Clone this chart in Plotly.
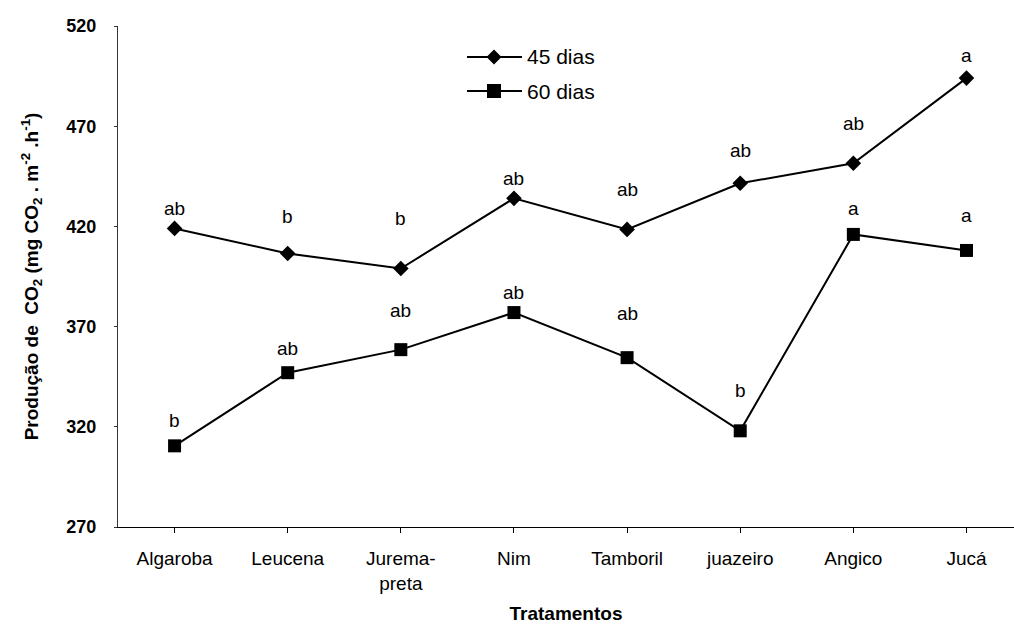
import plotly.graph_objects as go

# Treatments and CO2 production (mg CO2 . m-2 . h-1)
tratamentos = ["Algaroba", "Leucena", "Jurema-<br>preta", "Nim", "Tamboril",
               "juazeiro", "Angico", "Jucá"]
dias45 = [419, 406.5, 399, 434, 418.5, 441.5, 451.5, 494]
dias60 = [310.5, 347, 358.5, 377, 354.5, 318, 416, 408]
letras45 = ["ab", "b", "b", "ab", "ab", "ab", "ab", "a"]
letras60 = ["b", "ab", "ab", "ab", "ab", "b", "a", "a"]
y_ticks = [270, 320, 370, 420, 470, 520]

# pixel lift of each significance letter above its marker
lift45 = [20, 37, 50, 20, 40, 33, 40, 23]
lift60 = [25, 24, 39, 20, 44, 40, 26, 35]

FONT = "Liberation Sans, Arial, sans-serif"
xs = list(range(len(tratamentos)))

fig = go.Figure()
fig.add_trace(go.Scatter(
    x=xs, y=dias45, mode="lines+markers", name="45 dias",
    line=dict(color="black", width=2),
    marker=dict(symbol="diamond", size=12, color="black"),
    showlegend=False))
fig.add_trace(go.Scatter(
    x=xs, y=dias60, mode="lines+markers", name="60 dias",
    line=dict(color="black", width=2),
    marker=dict(symbol="square", size=13, color="black"),
    showlegend=False))

for vals, letras, lifts in ((dias45, letras45, lift45), (dias60, letras60, lift60)):
    for i, (v, t, s) in enumerate(zip(vals, letras, lifts)):
        fig.add_annotation(x=i, y=v, text=t, showarrow=False, yshift=s,
                           xanchor="center", yanchor="middle",
                           font=dict(family=FONT, size=19, color="black"))

# legend drawn as line + symbol + label (paper coordinates)
L, T, W, H = 118, 26, 896, 501
def px(xp):
    return (xp - L) / W
def py(yp):
    return (T + H - yp) / H

legend_rows = [("45 dias", 57, "M0,7.5 L7.5,0 L0,-7.5 L-7.5,0 Z"),
               ("60 dias", 91, "M-7,-7 L7,-7 L7,7 L-7,7 Z")]
for label, yrow, glyph in legend_rows:
    fig.add_shape(type="line", xref="paper", yref="paper",
                  x0=px(467), x1=px(522), y0=py(yrow), y1=py(yrow),
                  line=dict(color="black", width=2))
    fig.add_shape(type="path", xref="paper", yref="paper",
                  xsizemode="pixel", ysizemode="pixel",
                  xanchor=px(494), yanchor=py(yrow), path=glyph,
                  fillcolor="black", line=dict(color="black", width=0))
    fig.add_annotation(xref="paper", yref="paper", x=px(525), y=py(yrow),
                       text=label, showarrow=False, xanchor="left",
                       yanchor="middle",
                       font=dict(family=FONT, size=21, color="black"))

fig.update_layout(
    width=1014, height=631,
    margin=dict(l=L, r=0, t=T, b=631 - T - H),
    paper_bgcolor="white", plot_bgcolor="white",
    font=dict(family=FONT, color="black"),
    xaxis=dict(
        tickmode="array", tickvals=xs, ticktext=tratamentos,
        range=[-0.5, 7.42], showgrid=False, zeroline=False,
        showline=True, linecolor="black", linewidth=1,
        ticks="outside", ticklen=5, tickcolor="black", tickson="boundaries",
        ticklabelstandoff=9,
        tickfont=dict(family=FONT, size=19, color="black"),
        title=dict(text="<b>Tratamentos</b>", standoff=14,
                   font=dict(family=FONT, size=19, color="black")),
    ),
    yaxis=dict(
        range=[270, 520], tickmode="array", tickvals=y_ticks,
        ticktext=[f"<b>{v}</b>" for v in y_ticks],
        showgrid=False, zeroline=False,
        showline=True, linecolor="#333333", linewidth=1,
        ticks="outside", ticklen=3, tickcolor="#333333",
        ticklabelstandoff=14,
        tickfont=dict(family=FONT, size=18, color="black"),
        title=dict(
            text="<b>Produção de  CO<sub>2</sub> (mg CO<sub>2</sub> . m<sup>-2</sup> .h<sup>-1</sup>)</b>",
            standoff=22, font=dict(family=FONT, size=19, color="black")),
    ),
)

fig.write_html("out.html")
